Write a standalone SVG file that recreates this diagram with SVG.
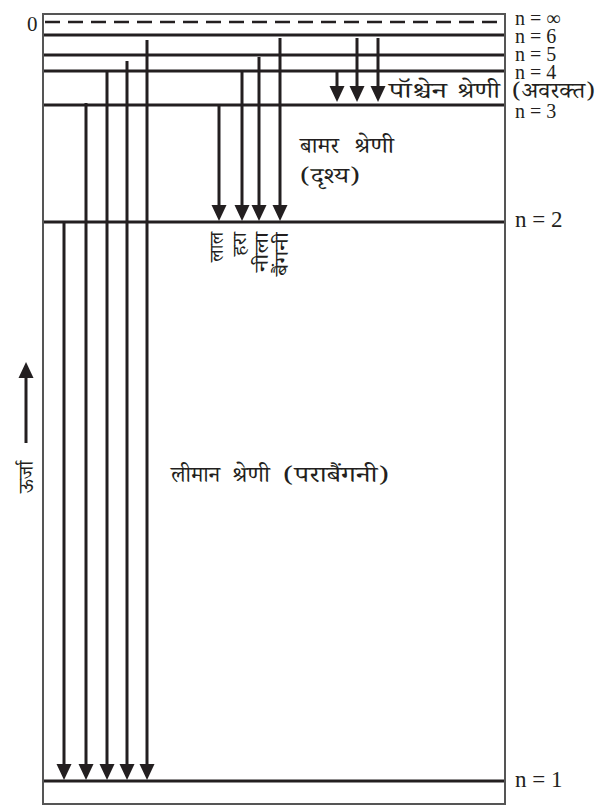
<svg xmlns="http://www.w3.org/2000/svg" width="598" height="806" viewBox="0 0 598 806">
<style>
.frame{fill:none;stroke:#555;stroke-width:2}
.lvl{stroke:#231f20;stroke-width:3}
.dash{stroke:#231f20;stroke-width:2.5;stroke-dasharray:15 8}
.arr{stroke:#231f20;stroke-width:3;marker-end:url(#ah)}
.lab{font-family:"Liberation Serif","DejaVu Serif","Times New Roman",serif;fill:#231f20}
.hi{font-family:"Noto Serif Devanagari","Noto Sans Devanagari","Lohit Devanagari","Liberation Serif",serif;fill:#231f20}
</style>
<defs>
<marker id="ah" markerUnits="userSpaceOnUse" viewBox="0 0 16 16" refX="12" refY="8" markerWidth="16" markerHeight="16" orient="auto">
<path d="M0,0.5 L16,8 L0,15.5 z" fill="#231f20"/>
</marker>
</defs>
<rect class="frame" x="43" y="14" width="462" height="790"/>
<g id="levels">
<line class="dash" x1="45" y1="22" x2="503" y2="22"/>
<line class="lvl" x1="44" y1="35" x2="504" y2="35"/>
<line class="lvl" x1="44" y1="55" x2="504" y2="55"/>
<line class="lvl" x1="44" y1="71" x2="504" y2="71"/>
<line class="lvl" x1="44" y1="105" x2="504" y2="105"/>
<line class="lvl" x1="44" y1="222" x2="504" y2="222"/>
<line class="lvl" x1="44" y1="781" x2="504" y2="781"/>
</g>
<g id="connectors">
<line class="arr" x1="64" y1="221" x2="64" y2="776"/>
<line class="arr" x1="86" y1="103" x2="86" y2="776"/>
<line class="arr" x1="107" y1="71" x2="107" y2="776"/>
<line class="arr" x1="127" y1="61" x2="127" y2="776"/>
<line class="arr" x1="147" y1="40" x2="147" y2="776"/>
<line class="arr" x1="219" y1="106" x2="219" y2="217"/>
<line class="arr" x1="242" y1="72" x2="242" y2="217"/>
<line class="arr" x1="259" y1="57" x2="259" y2="217"/>
<line class="arr" x1="280" y1="38" x2="280" y2="217"/>
<line class="arr" x1="337" y1="71" x2="337" y2="98"/>
<line class="arr" x1="357" y1="38" x2="357" y2="98"/>
<line class="arr" x1="378" y1="38" x2="378" y2="98"/>
<line class="arr" x1="26" y1="443" x2="26" y2="366"/>
</g>
<g id="labels-n">
<text class="lab" x="27" y="31" font-size="21">0</text>
<text class="lab" x="515" y="25" font-size="20">n = ∞</text>
<text class="lab" x="515" y="43" font-size="20">n = 6</text>
<text class="lab" x="515" y="61" font-size="20">n = 5</text>
<text class="lab" x="515" y="79" font-size="20">n = 4</text>
<text class="lab" x="515" y="118" font-size="20">n = 3</text>
<text class="lab" x="515" y="227" font-size="23">n = 2</text>
<text class="lab" x="515" y="787" font-size="23">n = 1</text>
</g>
<g id="paschen" class="hi" font-size="22">
<text x="389" y="98" textLength="58" lengthAdjust="spacingAndGlyphs">पॉश्चेन</text>
<text x="457" y="98" textLength="43" lengthAdjust="spacingAndGlyphs">श्रेणी</text>
<text x="512" y="98" textLength="83" lengthAdjust="spacingAndGlyphs">(अवरक्त)</text>
</g>
<g id="balmer" class="hi" font-size="22">
<text x="300" y="153" textLength="39" lengthAdjust="spacingAndGlyphs">बामर</text>
<text x="354" y="153" textLength="40" lengthAdjust="spacingAndGlyphs">श्रेणी</text>
<text x="300" y="183" textLength="60" lengthAdjust="spacingAndGlyphs">(दृश्य)</text>
</g>
<g id="balmer-colours" class="hi" font-size="19" text-anchor="end">
<text transform="translate(223,232) rotate(-90)" textLength="30" lengthAdjust="spacingAndGlyphs">लाल</text>
<text transform="translate(246,232) rotate(-90)" textLength="24" lengthAdjust="spacingAndGlyphs">हरा</text>
<text transform="translate(268,232) rotate(-90)" textLength="40" lengthAdjust="spacingAndGlyphs">नीला</text>
<text transform="translate(288,232) rotate(-90)" textLength="44" lengthAdjust="spacingAndGlyphs">बैंगनी</text>
</g>
<g id="lyman" class="hi" font-size="22">
<text x="171" y="482" textLength="49" lengthAdjust="spacingAndGlyphs">लीमान</text>
<text x="232" y="482" textLength="38" lengthAdjust="spacingAndGlyphs">श्रेणी</text>
<text x="283" y="482" textLength="106" lengthAdjust="spacingAndGlyphs">(पराबैंगनी)</text>
</g>
<g id="energy">
<text class="hi" transform="translate(33,477) rotate(-90)" text-anchor="middle" font-size="20">ऊर्जा</text>
</g>
</svg>
